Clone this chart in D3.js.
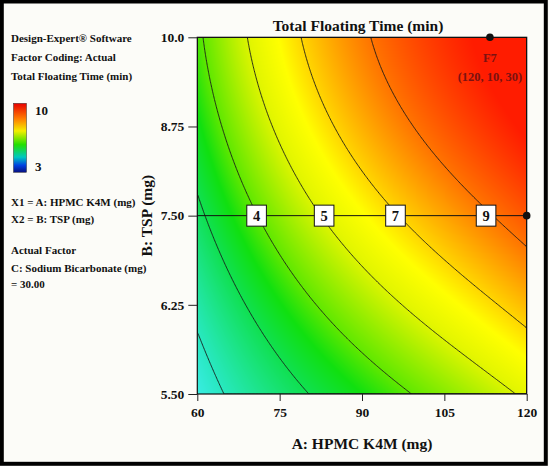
<!DOCTYPE html>
<html>
<head>
<meta charset="utf-8">
<script src="https://cdn.jsdelivr.net/npm/d3@7"></script>
<style>
  body { margin: 0; background: #fcfcf8; }
  text { font-family: "Liberation Serif", "Times New Roman", serif; font-weight: bold; fill: #111; }
</style>
</head>
<body>
<svg id="chart"></svg>
<script>
// Contour plot of Total Floating Time (Design-Expert style)

const width = 549;
const height = 466;

const plot = { left: 197.3, right: 526.7, top: 37.3, bottom: 394 };

const chartTitle = 'Total Floating Time (min)';
const xAxisLabel = 'A: HPMC K4M (mg)';
const yAxisLabel = 'B: TSP (mg)';

const xTicks = [60, 75, 90, 105, 120];
const yTicks = [5, 6.25, 7.5, 8.75, 10];
const yTickLabels = ['5.50', '6.25', '7.50', '8.75', '10.0'];

// response surface model, coded units a = (A-90)/30, b = (B-7.5)/2.5
// terms: 1, a, b, ab, a^2, b^2, a^2 b, a b^2, a^3, b^3
const modelCoef = [6.3324, 3.1370, 2.8168, 0.3856, -0.7018, -0.5147, -0.4620, -0.3745, 0.2359, -0.2988];

const contourLevels = [1, 2.5, 4, 5.5, 7, 8.5];
const contourLabels = [null, null, '4', '5', '7', '9'];
const labelA = [null, null, 70.8, 83.1, 96.1, 112.6];

const designPoints = [
  { A: 113.3, B: 10 },
  { A: 120, B: 7.5 }
];
const pointLabel = ['F7', '(120, 10, 30)'];

const legendMax = '10';
const legendMin = '3';
const infoLines = [
  'Design-Expert® Software',
  'Factor Coding: Actual',
  'Total Floating Time (min)',
  'X1 = A: HPMC K4M (mg)',
  'X2 = B: TSP (mg)',
  'Actual Factor',
  'C: Sodium Bicarbonate (mg)',
  '= 30.00'
];
const infoY = [41.5, 60.5, 79.8, 205.5, 222.8, 254, 271.5, 288.2];

const terms = (a, b) => [1, a, b, a * b, a * a, b * b, a * a * b, a * b * b, a * a * a, b * b * b];
const surface = (A, B) => d3.sum(terms((A - 90) / 30, (B - 7.5) / 2.5), (d, i) => d * modelCoef[i]);

const colorScale = d3.scaleLinear()
  .domain([0, 1, 2.5, 3.3, 4, 5, 5.6, 6.4, 7.1, 8.5, 10])
  .range(['#48f0ff', '#28e8c0', '#10e050', '#10e010', '#60e800', '#b4f000', '#e4f600', '#ffff00', '#ffd000', '#ff7400', '#ff1c00'])
  .clamp(true);

const svg = d3.select('#chart').attr('width', width).attr('height', height);

const xScale = d3.scaleLinear().domain([60, 120]).range([plot.left, plot.right]);
const yScale = d3.scaleLinear().domain([5, 10]).range([plot.bottom, plot.top]);

// heat map drawn into a canvas, then placed as an image
const pw = Math.round(plot.right - plot.left);
const ph = Math.round(plot.bottom - plot.top);
const canvas = document.createElement('canvas');
canvas.width = pw;
canvas.height = ph;
const ctx = canvas.getContext('2d');
const img = ctx.createImageData(pw, ph);
for (let j = 0; j < ph; j++) {
  for (let i = 0; i < pw; i++) {
    const A = xScale.invert(plot.left + (i + 0.5) * (plot.right - plot.left) / pw);
    const B = yScale.invert(plot.top + (j + 0.5) * (plot.bottom - plot.top) / ph);
    const c = d3.rgb(colorScale(surface(A, B)));
    const k = (j * pw + i) * 4;
    img.data[k] = c.r;
    img.data[k + 1] = c.g;
    img.data[k + 2] = c.b;
    img.data[k + 3] = 255;
  }
}
ctx.putImageData(img, 0, 0);
svg.append('image')
  .attr('x', plot.left).attr('y', plot.top)
  .attr('width', plot.right - plot.left).attr('height', plot.bottom - plot.top)
  .attr('preserveAspectRatio', 'none')
  .attr('href', canvas.toDataURL());

// contour lines
const nx = 240, ny = 260;
const values = new Array(nx * ny);
for (let j = 0; j < ny; j++)
  for (let i = 0; i < nx; i++)
    values[i + j * nx] = surface(60 + (i + 0.5) / nx * 60, 10 - (j + 0.5) / ny * 5);
const contours = d3.contours().size([nx, ny]).thresholds(contourLevels)(values);
const proj = d3.geoTransform({
  point: function(x, y) { this.stream.point(xScale(60 + x / nx * 60), yScale(10 - y / ny * 5)); }
});
svg.append('clipPath').attr('id', 'plotClip')
  .append('rect').attr('x', plot.left).attr('y', plot.top)
  .attr('width', plot.right - plot.left).attr('height', plot.bottom - plot.top);
svg.append('g').attr('clip-path', 'url(#plotClip)')
  .selectAll('path').data(contours).enter().append('path')
    .attr('d', d3.geoPath(proj))
    .attr('fill', 'none')
    .attr('stroke', '#1a1a1a')
    .attr('stroke-width', 0.9);

// frame
svg.append('rect')
  .attr('x', plot.left).attr('y', plot.top)
  .attr('width', plot.right - plot.left).attr('height', plot.bottom - plot.top)
  .attr('fill', 'none').attr('stroke', '#111').attr('stroke-width', 1.2);

// axes
const xAxis = d3.axisBottom(xScale).tickValues(xTicks).tickSize(7).tickPadding(6);
const yAxis = d3.axisLeft(yScale).tickValues(yTicks).tickSize(9).tickPadding(4)
  .tickFormat((d, i) => yTickLabels[i]);
const xg = svg.append('g').attr('transform', `translate(0,${plot.bottom})`).call(xAxis);
const yg = svg.append('g').attr('transform', `translate(${plot.left},0)`).call(yAxis);
[xg, yg].forEach(g => {
  g.select('.domain').remove();
  g.selectAll('line').attr('stroke', '#222');
  g.selectAll('text').attr('font-size', 13.5).style('fill', '#111');
});

svg.append('text')
  .attr('x', (plot.left + plot.right) / 2 - 4).attr('y', 30.5)
  .attr('text-anchor', 'middle').attr('font-size', 15.5)
  .text(chartTitle);
svg.append('text')
  .attr('x', (plot.left + plot.right) / 2).attr('y', 448.5)
  .attr('text-anchor', 'middle').attr('font-size', 15.5)
  .text(xAxisLabel);
svg.append('text')
  .attr('transform', `translate(151.5,${yScale(7.5)}) rotate(-90)`)
  .attr('text-anchor', 'middle').attr('font-size', 15.5)
  .text(yAxisLabel);

// mid line and contour labels
svg.append('line')
  .attr('x1', xScale(60)).attr('x2', xScale(120))
  .attr('y1', yScale(7.5)).attr('y2', yScale(7.5))
  .attr('stroke', '#111').attr('stroke-width', 1);
const lab = svg.append('g').selectAll('g')
  .data(contourLabels.map((t, i) => ({ t, a: labelA[i] })).filter(d => d.t))
  .enter().append('g')
    .attr('transform', d => `translate(${xScale(d.a)},${yScale(7.5)})`);
lab.append('rect')
  .attr('x', -9.8).attr('y', -10.5).attr('width', 19.6).attr('height', 21)
  .attr('fill', '#fff').attr('stroke', '#111').attr('stroke-width', 1);
lab.append('text')
  .attr('text-anchor', 'middle').attr('y', 5).attr('font-size', 14.5)
  .text(d => d.t);

// design points
svg.append('g').selectAll('circle').data(designPoints).enter().append('circle')
  .attr('cx', d => xScale(d.A)).attr('cy', d => yScale(d.B))
  .attr('r', 3.8).attr('fill', '#111');
svg.append('g').selectAll('text').data(pointLabel).enter().append('text')
  .attr('x', xScale(designPoints[0].A)).attr('y', (d, i) => 62 + i * 18.5)
  .attr('text-anchor', 'middle').attr('font-size', 12.5)
  .style('fill', '#7a1212')
  .text(d => d);

// left info block
svg.append('g').selectAll('text').data(infoLines).enter().append('text')
  .attr('x', 11).attr('y', (d, i) => infoY[i])
  .attr('font-size', 11)
  .text(d => d);

// legend bar
const grad = svg.append('defs').append('linearGradient')
  .attr('id', 'legendGrad').attr('x1', 0).attr('x2', 0).attr('y1', 0).attr('y2', 1);
const legendStops = [
  [0, '#e80000'], [0.22, '#ff7a00'], [0.4, '#f4ee00'], [0.6, '#22e000'],
  [0.78, '#00c8c0'], [0.9, '#0040e0'], [1, '#081080']
];
grad.selectAll('stop').data(legendStops).enter().append('stop')
  .attr('offset', d => d[0]).attr('stop-color', d => d[1]);
svg.append('rect')
  .attr('x', 13.5).attr('y', 103.3).attr('width', 13).attr('height', 69)
  .attr('fill', 'url(#legendGrad)').attr('stroke', '#333').attr('stroke-width', 0.5);
svg.append('text').attr('x', 35).attr('y', 115.3).attr('font-size', 13).text(legendMax);
svg.append('text').attr('x', 35).attr('y', 171.3).attr('font-size', 13).text(legendMin);

// outer border
svg.append('rect')
  .attr('x', 1.8).attr('y', 1.5).attr('width', 544).attr('height', 462.3)
  .attr('fill', 'none').attr('stroke', '#000').attr('stroke-width', 4);
</script>
</body>
</html>
